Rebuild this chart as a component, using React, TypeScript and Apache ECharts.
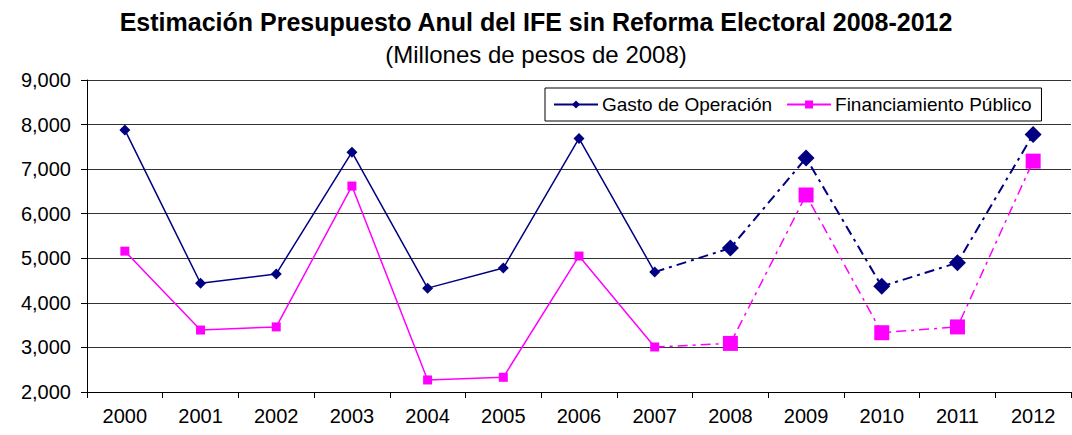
import React, { useEffect, useRef } from "react";
import * as echarts from "echarts";

const years = ["2000", "2001", "2002", "2003", "2004", "2005", "2006", "2007", "2008", "2009", "2010", "2011", "2012"];
const gastoReal = [7880, 4440, 4650, 7380, 4330, 4780, 7690, 4690, null, null, null, null, null];
const gastoEstimado = [null, null, null, null, null, null, null, 4690, 5230, 7250, 4370, 4900, 7780];
const financReal = [5160, 3390, 3460, 6620, 2270, 2330, 5050, 3010, null, null, null, null, null];
const financEstimado = [null, null, null, null, null, null, null, 3010, 3090, 6420, 3330, 3460, 7180];

const titleText = "Estimación Presupuesto Anul del IFE sin Reforma Electoral 2008-2012";
const subtitleText = "(Millones de pesos de 2008)";
const nameGasto = "Gasto de Operación";
const nameFinanc = "Financiamiento Público";

const NAVY = "#000080";
const MAGENTA = "#FF00FF";
const DASH = [10, 5, 3, 5];
const FONT = "'Liberation Sans', Arial, sans-serif";

export default function App() {
  const ref = useRef<HTMLDivElement>(null);
  useEffect(() => {
    if (!ref.current) return;
    const chart = echarts.init(ref.current, null, { renderer: "svg" });
    const bigOnly = (size: number) => (_v: any, p: any) => (p.dataIndex === 7 ? 0 : size);
    chart.setOption({
      animation: false,
      backgroundColor: "#fff",
      title: [
        {
          text: titleText,
          left: "center",
          top: 4,
          textStyle: { fontFamily: FONT, fontWeight: "bold", fontSize: 25, color: "#000" },
        },
        {
          text: subtitleText,
          left: "center",
          top: 37,
          textStyle: { fontFamily: FONT, fontWeight: "normal", fontSize: 24, color: "#000" },
        },
      ],
      legend: {
        data: [nameGasto, nameFinanc],
        left: 545,
        top: 88,
        padding: [7, 10, 7, 8],
        itemGap: 14,
        itemWidth: 44,
        itemHeight: 10,
        borderColor: "#000",
        borderWidth: 1,
        backgroundColor: "#fff",
        textStyle: { fontFamily: FONT, fontSize: 19, color: "#000", padding: [0, 0, 0, -1] },
      },
      grid: { left: 87, right: 1, top: 80, bottom: 43, containLabel: false },
      xAxis: {
        type: "category",
        data: years,
        boundaryGap: true,
        axisLine: { lineStyle: { color: "#000", width: 1 } },
        axisTick: { show: true, inside: false, length: 6, lineStyle: { color: "#000" } },
        axisLabel: { fontFamily: FONT, fontSize: 20, color: "#000", margin: 14 },
        splitLine: { show: false },
      },
      yAxis: {
        type: "value",
        min: 2000,
        max: 9000,
        interval: 1000,
        axisLine: { show: true, lineStyle: { color: "#000", width: 1 } },
        axisTick: { show: true, inside: false, length: 6, lineStyle: { color: "#000" } },
        axisLabel: {
          fontFamily: FONT,
          fontSize: 20,
          color: "#000",
          margin: 16,
          formatter: (v: number) => v.toLocaleString("en-US"),
        },
        splitLine: { show: true, lineStyle: { color: "#333", width: 1 } },
      },
      series: [
        {
          name: nameGasto,
          type: "line",
          data: gastoReal,
          color: NAVY,
          symbol: "diamond",
          symbolSize: 11,
          lineStyle: { color: NAVY, width: 1.5 },
          itemStyle: { color: NAVY },
          z: 3,
        },
        {
          name: nameFinanc,
          type: "line",
          data: financReal,
          color: MAGENTA,
          symbol: "rect",
          symbolSize: 9,
          lineStyle: { color: MAGENTA, width: 1.5 },
          itemStyle: { color: MAGENTA },
          z: 2,
        },
        {
          name: "Gasto estimado",
          type: "line",
          data: gastoEstimado,
          symbol: "diamond",
          symbolSize: bigOnly(17),
          lineStyle: { color: NAVY, width: 2, type: DASH },
          itemStyle: { color: NAVY },
          z: 3,
        },
        {
          name: "Financiamiento estimado",
          type: "line",
          data: financEstimado,
          symbol: "rect",
          symbolSize: bigOnly(15),
          lineStyle: { color: MAGENTA, width: 1.5, type: DASH },
          itemStyle: { color: MAGENTA },
          z: 2,
        },
      ],
    });
    return () => chart.dispose();
  }, []);
  return <div ref={ref} style={{ position: "fixed", left: 0, top: 0, width: 1072, height: 435 }} />;
}
